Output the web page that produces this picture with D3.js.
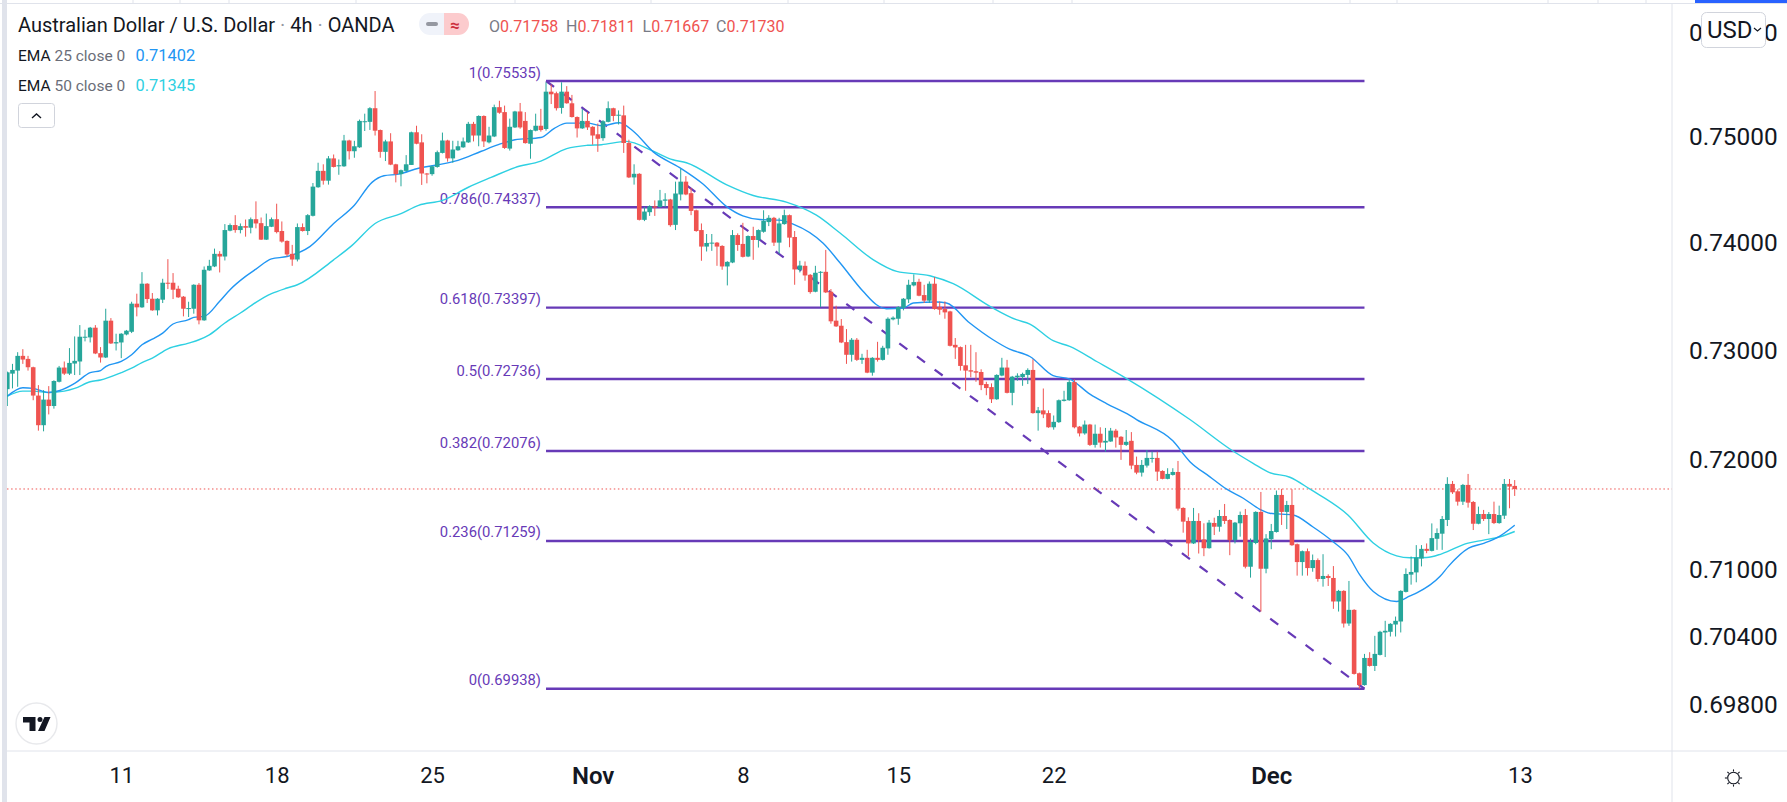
<!DOCTYPE html>
<html>
<head>
<meta charset="utf-8">
<script src="https://cdnjs.cloudflare.com/ajax/libs/d3/7.8.5/d3.min.js"></script>
<style>
  html, body { margin: 0; padding: 0; background: #fff; overflow: hidden; }
  text { font-family: Roboto, sans-serif; }
</style>
</head>
<body>
<div class="canva"></div>
<script>
const opens = [
.72643,.72786,.72814,.72950,.72922,.72845,.72584,.72312,.72547,.72488,
.72711,.72842,.72786,.72879,.72898,.73121,.73121,.73211,.72975,.72935,
.73276,.73065,.73074,.73148,.73173,.73434,.73400,.73620,.73480,.73372,
.73471,.73629,.73629,.73573,.73499,.73387,.73387,.73610,.73279,.73744,
.73781,.73899,.73874,.74116,.74169,.74122,.74159,.74144,.74224,.74187,
.74032,.74153,.74224,.74113,.74020,.73899,.73846,.74150,.74113,.74256,
.74525,.74680,.74587,.74798,.74723,.74723,.74968,.74866,.74903,.75145,
.75145,.75275,.75067,.74860,.74959,.74742,.74649,.74680,.74736,.75046,
.74950,.74655,.74649,.74717,.74850,.74968,.74798,.74875,.74903,.74950,
.75126,.75015,.75201,.74950,.75006,.75285,.75238,.74891,.75092,.75244,
.75154,.74937,.75061,.75108,.75077,.75433,.75418,.75278,.75433,.75322,
.75191,.75083,.75154,.75098,.75027,.74990,.75145,.75275,.75207,.75207,
.74944,.74618,.74652,.74218,.74290,.74345,.74339,.74398,.74410,.74171,
.74457,.74578,.74469,.74308,.74122,.73967,.73998,.74004,.73973,.73781,
.73818,.74075,.73992,.73874,.74066,.74029,.74106,.74197,.74237,.74004,
.74178,.74262,.74057,.73750,.73787,.73703,.73545,.73722,.73731,.73545,
.73276,.73229,.73077,.72960,.73099,.72913,.72932,.72795,.72932,.72913,
.73019,.73288,.73294,.73397,.73474,.73604,.73638,.73514,.73462,.73620,
.73403,.73384,.73362,.73052,.73031,.72863,.72817,.72808,.72801,.72690,
.72662,.72550,.72768,.72842,.72609,.72752,.72755,.72774,.72820,.72423,
.72448,.72423,.72293,.72340,.72535,.72541,.72708,.72299,.72237,.72318,
.72132,.72234,.72153,.72163,.72262,.72206,.72132,.72169,.71949,.71879,
.71943,.72007,.72013,.71894,.71822,.71858,.71885,.71558,.71440,.71237,
.71440,.71273,.71194,.71422,.71388,.71485,.71449,.71267,.71419,.71494,
.71027,.71241,.71522,.71009,.71276,.71340,.71676,.71522,.71585,.71230,
.71069,.71167,.71015,.71087,.70917,.70944,.70926,.70715,.70810,.70518,
.70640,.70075,.69970,.70211,.70140,.70238,.70438,.70444,.70509,.70536,
.70801,.70956,.70976,.71101,.71188,.71170,.71279,.71325,.71449,.71776,
.71709,.71615,.71767,.71612,.71415,.71503,.71458,.71503,.71421,.71488,
.71776,.71758]

const highs = [
.72805,.72876,.72984,.73012,.72950,.72850,.72680,.72634,.72671,.72725,
.72857,.72898,.73022,.73130,.73235,.73192,.73218,.73235,.73031,.73387,
.73300,.73155,.73160,.73190,.73452,.73527,.73728,.73625,.73533,.73485,
.73666,.73849,.73719,.73601,.73505,.73452,.73615,.73626,.73781,.73843,
.73948,.73924,.74178,.74184,.74262,.74184,.74221,.74240,.74392,.74240,
.74277,.74240,.74370,.74203,.74025,.73983,.74184,.74184,.74272,.74565,
.74757,.74742,.74820,.74835,.74788,.75021,.74975,.74965,.75167,.75223,
.75285,.75439,.75072,.74975,.75037,.74747,.74692,.74829,.75052,.75108,
.75027,.74660,.74730,.74872,.75043,.74975,.74965,.74965,.74996,.75145,
.75145,.75207,.75207,.75098,.75309,.75346,.75300,.75176,.75250,.75325,
.75238,.75072,.75223,.75269,.75523,.75502,.75433,.75523,.75486,.75402,
.75197,.75269,.75238,.75104,.75129,.75161,.75340,.75280,.75254,.75300,
.74975,.74742,.74658,.74339,.74355,.74401,.74500,.74469,.74416,.74578,
.74699,.74630,.74519,.74314,.74184,.74085,.74085,.74010,.73980,.73830,
.74122,.74091,.74190,.74072,.74153,.74128,.74308,.74262,.74246,.74237,
.74314,.74268,.74113,.73834,.73828,.73710,.73787,.73737,.73936,.73570,
.73415,.73291,.73198,.73115,.73115,.72969,.73006,.72938,.73080,.73043,
.73307,.73316,.73410,.73486,.73657,.73707,.73666,.73610,.73641,.73682,
.73455,.73455,.73368,.73115,.73037,.73052,.73052,.72984,.72826,.72711,
.72696,.72780,.72932,.72913,.72765,.72789,.72795,.72835,.72919,.72479,
.72649,.72448,.72401,.72548,.72628,.72727,.72733,.72305,.72355,.72324,
.72318,.72293,.72287,.72287,.72278,.72212,.72268,.72249,.72025,.71994,
.72085,.72070,.72070,.71900,.71919,.71919,.71985,.71564,.71473,.71558,
.71510,.71419,.71449,.71470,.71540,.71594,.71455,.71431,.71525,.71549,
.71282,.71528,.71703,.71321,.71413,.71716,.71731,.71622,.71728,.71236,
.71173,.71191,.71137,.71102,.71140,.70959,.71033,.70819,.70816,.70899,
.70646,.70081,.70247,.70262,.70408,.70453,.70542,.70521,.70580,.70816,
.71012,.71119,.71222,.71222,.71237,.71418,.71373,.71485,.71837,.71803,
.71727,.71776,.71867,.71621,.71570,.71540,.71521,.71615,.71579,.71821,
.71821,.71811]

const lows = [
.72488,.72650,.72665,.72876,.72814,.72541,.72262,.72256,.72411,.72464,
.72705,.72773,.72773,.72773,.72773,.73084,.73074,.72966,.72888,.72930,
.73060,.73000,.72929,.73140,.73161,.73316,.73395,.73440,.73368,.73325,
.73440,.73570,.73477,.73488,.73316,.73310,.73341,.73242,.73275,.73740,
.73775,.73725,.73837,.74110,.74097,.74091,.74060,.74091,.74138,.74029,
.74029,.74150,.74091,.74004,.73874,.73787,.73828,.74108,.74075,.74250,
.74520,.74550,.74550,.74712,.74643,.74718,.74788,.74804,.74898,.75058,
.75068,.75015,.74804,.74773,.74734,.74571,.74534,.74675,.74736,.74932,
.74547,.74562,.74634,.74710,.74845,.74767,.74757,.74870,.74898,.74945,
.74959,.74913,.74906,.74940,.75000,.75222,.74888,.74872,.75087,.75080,
.74938,.74795,.75055,.75052,.75061,.75315,.75253,.75223,.75318,.75186,
.74996,.75078,.75068,.74928,.74860,.74965,.75140,.75151,.75120,.74850,
.74612,.74550,.74212,.74206,.74255,.74255,.74333,.74339,.74153,.74122,
.74401,.74450,.74262,.74106,.73834,.73921,.73927,.73787,.73750,.73604,
.73812,.73927,.73865,.73868,.73843,.73958,.74097,.74159,.73973,.73899,
.74172,.73961,.73610,.73725,.73648,.73527,.73540,.73403,.73533,.73248,
.73218,.73068,.72876,.72897,.72903,.72876,.72790,.72767,.72897,.72907,
.72960,.73279,.73238,.73372,.73440,.73595,.73503,.73440,.73440,.73378,
.73331,.73294,.73037,.72922,.72814,.72628,.72752,.72711,.72634,.72587,
.72516,.72545,.72762,.72604,.72495,.72721,.72674,.72690,.72418,.72262,
.72377,.72288,.72271,.72333,.72530,.72536,.72283,.72209,.72225,.72122,
.72107,.72107,.72070,.72160,.72107,.71995,.72122,.71910,.71864,.71843,
.71925,.71970,.71803,.71818,.71818,.71852,.71534,.71334,.71122,.71232,
.71146,.71122,.71190,.71313,.71343,.71413,.71131,.71237,.71298,.71012,
.70929,.71230,.70625,.70968,.71185,.71335,.71404,.71367,.71215,.70947,
.70947,.70947,.70982,.70893,.70848,.70854,.70649,.70625,.70482,.70497,
.70063,.69938,.69965,.70134,.70095,.70233,.70219,.70402,.70402,.70438,
.70796,.70866,.70887,.71030,.71149,.71165,.71179,.71179,.71394,.71685,
.71579,.71585,.71561,.71358,.71410,.71440,.71321,.71412,.71415,.71458,
.71555,.71667]

const closes = [
.72798,.72820,.72950,.72916,.72845,.72584,.72312,.72547,.72488,.72718,
.72842,.72786,.72885,.72904,.73127,.73127,.73211,.72972,.72935,.73276,
.73065,.73077,.73155,.73183,.73434,.73400,.73620,.73477,.73372,.73480,
.73629,.73623,.73564,.73493,.73387,.73393,.73610,.73279,.73750,.73787,
.73899,.73874,.74122,.74169,.74122,.74159,.74144,.74224,.74184,.74032,
.74159,.74224,.74103,.74014,.73893,.73846,.74150,.74113,.74262,.74531,
.74680,.74587,.74798,.74717,.74733,.74968,.74866,.74913,.75154,.75151,
.75275,.75061,.74860,.74959,.74739,.74649,.74686,.74742,.75046,.74937,
.74655,.74649,.74723,.74857,.74968,.74798,.74882,.74913,.74959,.75126,
.75015,.75201,.74959,.75015,.75285,.75232,.74897,.75098,.75244,.75092,
.74943,.75067,.75108,.75067,.75433,.75408,.75275,.75433,.75322,.75191,
.75083,.75154,.75092,.75015,.74984,.75151,.75275,.75201,.75213,.74944,
.74618,.74652,.74218,.74296,.74345,.74333,.74401,.74410,.74168,.74466,
.74578,.74457,.74302,.74113,.73967,.74001,.74004,.73967,.73781,.73824,
.74075,.73982,.73871,.74066,.74029,.74122,.74209,.74237,.74004,.74184,
.74262,.74051,.73753,.73790,.73697,.73542,.73722,.73731,.73539,.73270,
.73223,.73074,.72960,.73099,.72913,.72932,.72795,.72932,.72913,.73025,
.73294,.73304,.73403,.73480,.73610,.73635,.73508,.73462,.73620,.73384,
.73378,.73353,.73043,.73028,.72857,.72814,.72805,.72795,.72680,.72653,
.72550,.72774,.72842,.72609,.72758,.72767,.72783,.72820,.72423,.72448,
.72411,.72293,.72343,.72541,.72547,.72708,.72293,.72237,.72318,.72132,
.72234,.72153,.72169,.72262,.72200,.72132,.72160,.71943,.71879,.71949,
.72013,.72013,.71888,.71822,.71867,.71885,.71552,.71434,.71237,.71440,
.71267,.71194,.71425,.71388,.71485,.71440,.71267,.71425,.71494,.71027,
.71250,.71522,.71009,.71282,.71349,.71676,.71522,.71585,.71221,.71069,
.71167,.71015,.71087,.70917,.70944,.70926,.70715,.70810,.70518,.70640,
.70069,.69970,.70211,.70140,.70247,.70444,.70453,.70515,.70542,.70810,
.70962,.70980,.71110,.71188,.71170,.71285,.71331,.71458,.71776,.71700,
.71615,.71767,.71606,.71415,.71503,.71458,.71503,.71421,.71494,.71776,
.71752,.71730]

// EMA readings, sampled along the curves (bar number, price)
const ema25Bars = [0,3,5,8,10,13,16,18,19,22,24,26,28,30,32,35,36,38,41,43,46,48,51,54,58.4,63,67,70.4,72.7,75.5,79.4,83,87,91.5,94.8,98,103,105.6,108,112,114.7,118.2,120.8,124.7,129.8,134.3,138.8,142,145.3,149,151.7,157.5,160.7,165.2,167.8,169.7,173,174.9,179.4,181.3,185.8,190.3,193.5,197.4,201.9,205.1,209,212.2,216.7,218,225,228.3,232.1,235.4,238.6,241.8,243.7,248.2,252,256,258.8,261.1,263.7,268.2,270.8,272.1,276.6,278.2,282.1,285,287.9,291]
const ema25 = [.72578,.72656,.72650,.72612,.72628,.72696,.72795,.72814,.72851,.72898,.72960,.73053,.73105,.73161,.73245,.73285,.73307,.73316,.73456,.73564,.73688,.73756,.73852,.73874,.73967,.74184,.74355,.74571,.74634,.74649,.74705,.74736,.74779,.74866,.74928,.74975,.74996,.75083,.75133,.75133,.75108,.75136,.75058,.74860,.74711,.74556,.74345,.74255,.74221,.74215,.74178,.73998,.73818,.73549,.73424,.73387,.73394,.73440,.73449,.73440,.73254,.73099,.73012,.72944,.72767,.72736,.72597,.72510,.72402,.72364,.72169,.71979,.71843,.71728,.71646,.71546,.71510,.71494,.71388,.71250,.71131,.70953,.70804,.70715,.70765,.70792,.70941,.71030,.71194,.71238,.71297,.71402]
const ema50Bars = [0,3,5,8,11,13,16,18,22,24,26,28,31,35,37,39,42,45,48,51,54,56,63,66.5,71,76,79.4,84,89,93.4,98,103,108,112,114.7,119.5,124.7,128.5,131.1,138.8,144,150.4,156.2,160.7,167.2,171.7,178.1,182.6,189.7,194.8,197.4,201.9,205.1,210.3,216,228.3,236.6,240.5,243.7,247.6,251.5,258.8,263.7,268.2,270.8,274,276.9,281.8,285,288.2,291]
const ema50 = [.72578,.72625,.72625,.72612,.72625,.72650,.72711,.72727,.72795,.72836,.72888,.72929,.73015,.73068,.73099,.73145,.73254,.73347,.73446,.73527,.73580,.73610,.73843,.73976,.74184,.74277,.74355,.74401,.74525,.74618,.74711,.74773,.74891,.74922,.74928,.74959,.74866,.74785,.74757,.74550,.74447,.74385,.74262,.74097,.73843,.73735,.73694,.73620,.73409,.73285,.73245,.73090,.73037,.72898,.72743,.72364,.72076,.71964,.71879,.71837,.71728,.71494,.71241,.71125,.71108,.71110,.71143,.71238,.71267,.71297,.71345]

const fibLevels = ['1','0.786','0.618','0.5','0.382','0.236','0']
const fibPrices = [.75535,.74337,.73397,.72736,.72076,.71259,.69938]
const fibStartBar = 104
const fibEndBar = 262

const priceTicks = [.76,.75,.74,.73,.72,.71,.704,.698]
const timeTickBars = [22,52,82,113,142,172,202,244,292]
const timeTickLabels = ['11','18','25','Nov','8','15','22','Dec','13']
const boldTicks = ['Nov','Dec']
const lastPrice = .7173

const widthOfSVG = 1787
const heightOfSVG = 802
const chartLeft = 7
const chartRight = 1672
const chartBottom = 751

const red = '#ef5350'
const teal = '#26a69a'
const purple = '#673ab7'
const ink = '#131722'
const rule = '#e0e3eb'

const svg = d3.select('.canva').append('svg')
  .attr('width', widthOfSVG)
  .attr('height', heightOfSVG)
  .style('display', 'block')

const x = d3.scaleLinear().domain([0, 291]).range([7.3, 1514.7])
const y = d3.scaleLog().domain([.75535, .69938]).range([81, 688.7])

svg.append('defs').append('clipPath').attr('id', 'pane')
  .append('rect').attr('x', chartLeft).attr('y', 4)
  .attr('width', chartRight - chartLeft).attr('height', chartBottom - 4)

const pane = svg.append('g').attr('clip-path', 'url(#pane)')

// fib retracement, sits under the candles
const fibs = pane.append('g')
fibs.selectAll('line').data(fibPrices).join('line')
  .attr('x1', x(fibStartBar)).attr('x2', x(fibEndBar))
  .attr('y1', d => y(d)).attr('y2', d => y(d))
  .attr('stroke', purple).attr('stroke-width', 2.4)
fibs.append('line')
  .attr('x1', x(fibStartBar)).attr('y1', y(fibPrices[0]))
  .attr('x2', x(fibEndBar)).attr('y2', y(fibPrices[6]))
  .attr('stroke', purple).attr('stroke-width', 2.2)
  .attr('stroke-dasharray', '10 12')
fibs.selectAll('text').data(fibPrices).join('text')
  .attr('x', 541).attr('y', d => y(d) - 3.5)
  .attr('text-anchor', 'end')
  .attr('font-size', 14.8)
  .attr('fill', purple)
  .text((d, i) => `${fibLevels[i]}(${d.toFixed(5)})`)

// last price
pane.append('line')
  .attr('x1', chartLeft).attr('x2', chartRight)
  .attr('y1', y(lastPrice)).attr('y2', y(lastPrice))
  .attr('stroke', red).attr('stroke-width', 1)
  .attr('stroke-dasharray', '1.5 2.6')

// moving averages
const emaLine = d3.line().x(d => x(d[0])).y(d => y(d[1])).curve(d3.curveMonotoneX)
pane.append('path').attr('d', emaLine(d3.zip(ema50Bars, ema50)))
  .attr('fill', 'none').attr('stroke', '#2ed0e2').attr('stroke-width', 1.4)
pane.append('path').attr('d', emaLine(d3.zip(ema25Bars, ema25)))
  .attr('fill', 'none').attr('stroke', '#2196f3').attr('stroke-width', 1.4)

// candles
const colorOf = i => closes[i] >= opens[i] ? teal : red
const candles = pane.append('g').selectAll('g').data(d3.range(opens.length)).join('g')
candles.append('line')
  .attr('x1', i => x(i)).attr('x2', i => x(i))
  .attr('y1', i => y(highs[i])).attr('y2', i => y(lows[i]))
  .attr('stroke', colorOf).attr('stroke-width', 1)
candles.append('rect')
  .attr('x', i => x(i) - 2.3).attr('width', 4.6)
  .attr('y', i => y(Math.max(opens[i], closes[i])))
  .attr('height', i => Math.max(1, Math.abs(y(opens[i]) - y(closes[i]))))
  .attr('fill', colorOf)

// frame
svg.append('rect').attr('x', 2).attr('y', 0).attr('width', 5).attr('height', heightOfSVG).attr('fill', rule)
svg.append('line').attr('x1', 0).attr('x2', widthOfSVG).attr('y1', 3.5).attr('y2', 3.5).attr('stroke', rule)
svg.append('line').attr('x1', chartLeft).attr('x2', widthOfSVG).attr('y1', chartBottom).attr('y2', chartBottom).attr('stroke', rule)
svg.append('line').attr('x1', chartRight).attr('x2', chartRight).attr('y1', 3).attr('y2', heightOfSVG).attr('stroke', rule)
svg.selectAll('.tab').data([133, 180, 229, 356, 515, 651, 788, 884, 993, 1072, 1350, 1397, 1548, 1598, 1646]).join('line')
  .attr('class', 'tab').attr('x1', d => d).attr('x2', d => d).attr('y1', 0).attr('y2', 3).attr('stroke', rule)
svg.append('rect').attr('x', 1695).attr('y', 0).attr('width', 92).attr('height', 3).attr('fill', '#2962ff')

// price axis
const priceAxis = d3.axisRight(y).tickValues(priceTicks).tickSize(0).tickPadding(17).tickFormat(d3.format('.5f'))
svg.append('g').attr('transform', `translate(${chartRight},0)`).call(priceAxis)
  .call(g => g.select('.domain').remove())
  .call(g => g.selectAll('text').attr('font-size', 24.4).attr('font-family', 'Roboto, sans-serif').attr('fill', ink))

// time axis
const timeAxis = d3.axisBottom(x).tickValues(timeTickBars).tickSize(0).tickPadding(16)
  .tickFormat((d, i) => timeTickLabels[i])
svg.append('g').attr('transform', `translate(0,${chartBottom})`).call(timeAxis)
  .call(g => g.select('.domain').remove())
  .call(g => g.selectAll('text').attr('font-family', 'Roboto, sans-serif').attr('fill', ink)
    .attr('font-size', (d, i) => boldTicks.includes(timeTickLabels[i]) ? 24 : 22)
    .attr('font-weight', (d, i) => boldTicks.includes(timeTickLabels[i]) ? 600 : 400))

// currency button
svg.append('rect').attr('x', 1701.5).attr('y', 12.5).attr('width', 64).attr('height', 35).attr('rx', 5)
  .attr('fill', '#fff').attr('stroke', '#d1d4dc')
svg.append('text').attr('x', 1707).attr('y', 38).attr('font-size', 24).attr('fill', ink).text('USD')
svg.append('path').attr('d', 'M1754 28l3.5 3 3.5-3').attr('fill', 'none').attr('stroke', ink).attr('stroke-width', 1.2)

// legend
const title = svg.append('text').attr('x', 18).attr('y', 32).attr('font-size', 20).attr('fill', ink)
title.append('tspan').text('Australian Dollar / U.S. Dollar')
title.append('tspan').attr('fill', '#9598a1').text(' · ')
title.append('tspan').text('4h')
title.append('tspan').attr('fill', '#9598a1').text(' · ')
title.append('tspan').text('OANDA')

svg.append('path').attr('d', 'M444 13h-14a11 11 0 0 0 0 22h14z').attr('fill', '#f0f3fa')
svg.append('path').attr('d', 'M444 13h14a11 11 0 0 1 0 22h-14z').attr('fill', '#fccbcd')
svg.append('rect').attr('x', 426).attr('y', 22).attr('width', 12).attr('height', 4).attr('rx', 2).attr('fill', '#9598a1')
svg.append('text').attr('x', 455).attr('y', 31).attr('text-anchor', 'middle').attr('font-size', 17).attr('font-weight', 700).attr('fill', '#cc2f3c').text('≈')

const ohlcNames = ['O', 'H', 'L', 'C']
const ohlcValues = ['0.71758', '0.71811', '0.71667', '0.71730']
const ohlcLefts = [489, 566, 642.5, 716]
const ohlcText = svg.append('g')
ohlcNames.forEach((name, i) => {
  const t = ohlcText.append('text').attr('x', ohlcLefts[i]).attr('y', 32).attr('font-size', 16)
  t.append('tspan').attr('fill', '#787b86').text(name)
  t.append('tspan').attr('fill', red).text(ohlcValues[i])
})

const emaLegend = [['EMA', ' 25 close 0', '0.71402', '#2196f3', 61], ['EMA', ' 50 close 0', '0.71345', '#2ed0e2', 90.5]]
emaLegend.forEach(row => {
  const t = svg.append('text').attr('x', 18).attr('y', row[4]).attr('font-size', 15.5).attr('fill', ink)
  t.append('tspan').text(row[0])
  t.append('tspan').attr('fill', '#6a6d78').text(row[1])
  svg.append('text').attr('x', 135.5).attr('y', row[4]).attr('font-size', 16.4).attr('fill', row[3]).text(row[2])
})

// collapse button
svg.append('rect').attr('x', 18.5).attr('y', 103.5).attr('width', 36).attr('height', 24).attr('rx', 3)
  .attr('fill', '#fff').attr('stroke', '#d1d4dc')
svg.append('path').attr('d', 'M32 118l4.5-4 4.5 4').attr('fill', 'none').attr('stroke', ink).attr('stroke-width', 1.4)

// logo
svg.append('circle').attr('cx', 36.5).attr('cy', 723.5).attr('r', 20.5).attr('fill', '#fff').attr('stroke', '#e8e9ec').attr('stroke-width', 1.4)
svg.append('path').attr('d', 'M23 717h12.5v14h-6v-8.5h-6.5z M44.5 717h6l-6 14h-6.5z').attr('fill', ink)
svg.append('circle').attr('cx', 40).attr('cy', 719.5).attr('r', 2.5).attr('fill', ink)

// settings icon
const sun = svg.append('g').attr('transform', 'translate(1733.5,778)').attr('fill', 'none').attr('stroke', ink).attr('stroke-width', 1.1)
sun.append('circle').attr('r', 5.8)
sun.selectAll('line').data(d3.range(8)).join('line')
  .attr('x1', 0).attr('x2', 0).attr('y1', -6.5).attr('y2', -8.6)
  .attr('transform', d => `rotate(${d * 45})`)
</script>
</body>
</html>
